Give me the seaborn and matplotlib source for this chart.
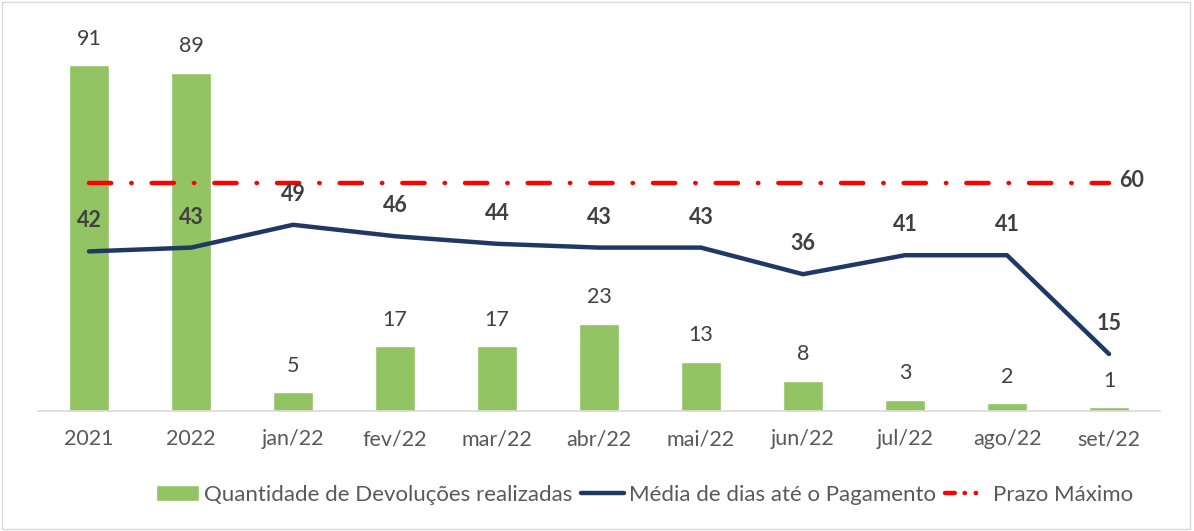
import pandas as pd
import matplotlib.pyplot as plt
import seaborn as sns
from matplotlib.patches import Patch, Rectangle
from matplotlib.lines import Line2D

meses = ['2021', '2022', 'jan/22', 'fev/22', 'mar/22', 'abr/22',
         'mai/22', 'jun/22', 'jul/22', 'ago/22', 'set/22']
devolucoes = [91, 89, 5, 17, 17, 23, 13, 8, 3, 2, 1]
media_dias = [42, 43, 49, 46, 44, 43, 43, 36, 41, 41, 15]
prazo = [60, 60, 60, 60, 60, 60, 60, 60, 60, 60, 60]

df = pd.DataFrame({'mes': meses, 'dev': devolucoes, 'media': media_dias, 'prazo': prazo})

sns.set_style('white')
plt.rcParams['font.family'] = ['Lato', 'DejaVu Sans']

verde = '#93C463'
azul = '#1F3864'
vermelho = '#FF0000'
cinza = '#404040'

fig = plt.figure(figsize=(11.94, 5.31), dpi=100)
ax = fig.add_axes([38 / 1194, 120 / 531, 1122 / 1194, 380 / 531])

sns.barplot(data=df, x='mes', y='dev', color=verde, width=0.39, ax=ax, saturation=1)
sns.lineplot(data=df, x='mes', y='media', color=azul, linewidth=3.2, sort=False, ax=ax)
sns.lineplot(data=df, x='mes', y='prazo', color=vermelho, linewidth=3.2, sort=False, ax=ax,
             linestyle=(0, (5, 4.5, 0.1, 4.5)), dash_capstyle='round')

for i, v in enumerate(devolucoes):
    ax.annotate(str(v), (i, v), xytext=(0, 19), textcoords='offset points',
                ha='center', va='center', fontsize=15.5, color=cinza)
for i, v in enumerate(media_dias):
    ax.annotate(str(v), (i, v), xytext=(0, 22), textcoords='offset points',
                ha='center', va='center', fontsize=15.5, color=cinza, fontweight='bold')
ax.annotate('60', (len(meses) - 1, prazo[-1]), xytext=(7, 2), textcoords='offset points',
            ha='left', va='center', fontsize=15.5, color=cinza, fontweight='bold')

ax.set_xlim(-0.5, len(meses) - 0.5)
ax.set_ylim(0, 100)
ax.set_xlabel('')
ax.set_ylabel('')
ax.set_yticks([])
for s in ['left', 'right', 'top']:
    ax.spines[s].set_visible(False)
ax.spines['bottom'].set_color('#D9D9D9')
ax.spines['bottom'].set_linewidth(1.2)
ax.set_xticks([i + 0.5 for i in range(-1, len(meses))], minor=True)
ax.tick_params(axis='x', which='minor', length=6, color='#D9D9D9', width=1.2, direction='out')
ax.tick_params(axis='x', which='major', length=0, pad=13, labelsize=15.5, labelcolor='#595959')
ax.patch.set_alpha(0)

handles = [
    Patch(facecolor=verde, label='Quantidade de Devoluções realizadas'),
    Line2D([], [], color=azul, linewidth=3.2, label='Média de dias até o Pagamento'),
    Line2D([], [], color=vermelho, linewidth=3.2, linestyle=(0, (2.2, 2.2, 0.1, 2.4, 0.1, 6)),
           dash_capstyle='round', label='Prazo Máximo'),
]
fig.legend(handles=handles, loc='center', bbox_to_anchor=(0.54, 0.068), ncol=3,
           frameon=False, fontsize=16, labelcolor='#595959', handlelength=1.9,
           columnspacing=0.4, handletextpad=0.25)

fig.patches.append(Rectangle((0.002, 0.003), 0.995, 0.993, transform=fig.transFigure,
                             fill=False, edgecolor='#D9D9D9', linewidth=1))

fig.savefig('out.png', dpi=100)
